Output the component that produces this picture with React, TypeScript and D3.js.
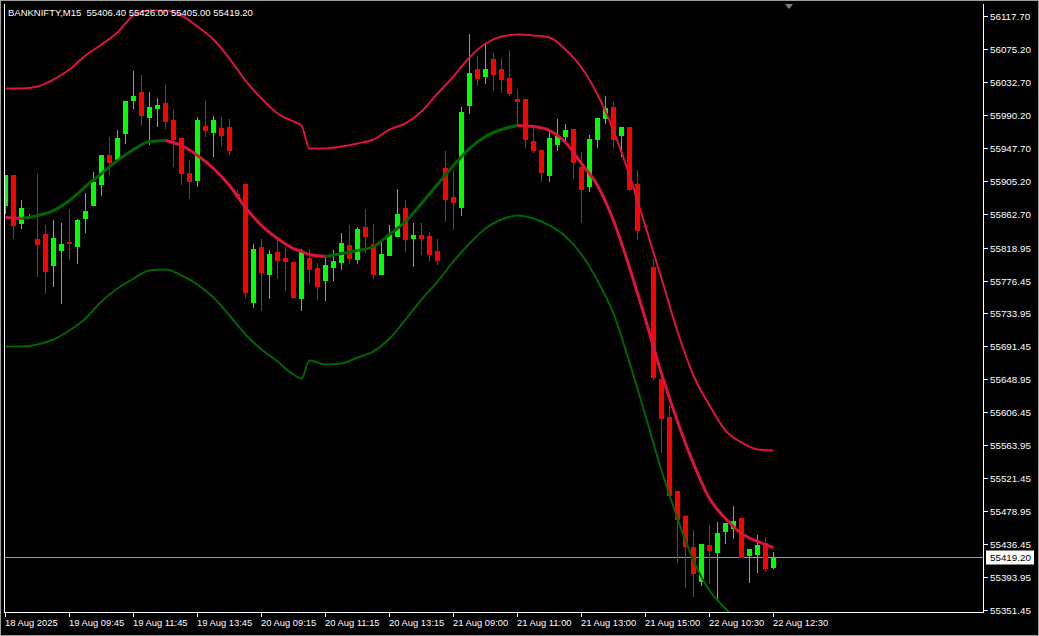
import React from "react";
import * as d3 from "d3";

const symbolTitle = "BANKNIFTY,M15  55406.40 55426.00 55405.00 55419.20";

const timeLabels = [
  "18 Aug 2025", "19 Aug 09:45", "19 Aug 11:45", "19 Aug 13:45", "20 Aug 09:15",
  "20 Aug 11:15", "20 Aug 13:15", "21 Aug 09:00", "21 Aug 11:00", "21 Aug 13:00",
  "21 Aug 15:00", "22 Aug 10:30", "22 Aug 12:30",
];
const timeLabelBars = [0, 8, 16, 24, 32, 40, 48, 56, 64, 72, 80, 88, 96];

const priceTicks = [
  56117.70, 56075.20, 56032.70, 55990.20, 55947.70, 55905.20, 55862.70, 55818.95,
  55776.45, 55733.95, 55691.45, 55648.95, 55606.45, 55563.95, 55521.45, 55478.95,
  55436.45, 55393.95, 55351.45,
];

const lastPrice = 55419.20;

// OHLC per 15-minute bar (97 bars)
const opens = [
  55873.9, 55912.6, 55850.7, 55859.4, 55830.0, 55836.5, 55796.5, 55815.8, 55826.2, 55821.0,
  55857.1, 55873.9, 55901.0, 55938.4, 55933.2, 55966.8, 56009.3, 56019.7, 55987.4, 55999.0,
  56005.5, 55983.5, 55960.3, 55915.2, 55906.1, 55975.8, 55968.1, 55973.2, 55974.5, 55888.1,
  55901.0, 55748.8, 55819.7, 55784.9, 55813.3, 55805.5, 55800.4, 55753.9, 55805.5, 55792.6,
  55777.1, 55793.9, 55800.4, 55822.3, 55804.2, 55845.5, 55823.6, 55784.9, 55809.4, 55833.9,
  55870.0, 55831.3, 55835.2, 55833.9, 55814.6, 55921.6, 55884.2, 55871.3, 56002.9, 56049.3,
  56040.3, 56062.2, 56049.3, 56037.7, 56010.6, 56010.6, 55956.5, 55944.8, 55912.6, 55952.6,
  55962.9, 55971.9, 55922.9, 55898.4, 55959.0, 55986.1, 56000.3, 55964.2, 55974.5, 55901.0,
  55846.8, 55793.9, 55649.4, 55600.4, 55505.0, 55472.7, 55432.7, 55388.9, 55435.3, 55426.3,
  55453.4, 55457.2, 55470.1, 55422.4, 55423.7, 55437.9, 55406.40,
];
const highs = [
  55912.6, 55912.6, 55880.3, 55862.3, 55913.9, 55848.1, 55854.5, 55850.7, 55868.7, 55856.0,
  55889.4, 55916.5, 55938.4, 55961.6, 55970.6, 56008.1, 56046.8, 56041.6, 56019.7, 56011.9,
  56028.7, 55996.4, 55960.3, 55931.9, 55987.4, 56008.1, 55988.7, 55987.4, 55984.8, 55893.2,
  55901.0, 55823.6, 55830.0, 55815.8, 55830.0, 55819.7, 55800.4, 55817.1, 55817.1, 55799.1,
  55805.5, 55815.8, 55837.8, 55848.1, 55845.5, 55868.7, 55849.4, 55826.2, 55848.1, 55894.5,
  55880.3, 55850.7, 55850.7, 55839.1, 55830.0, 55943.6, 55919.0, 56000.3, 56094.5, 56066.1,
  56081.6, 56070.0, 56063.5, 56073.8, 56023.5, 56010.6, 55975.8, 55944.8, 55970.6, 55984.8,
  55978.4, 55971.9, 55942.3, 55964.2, 55986.1, 56014.5, 56006.8, 55974.5, 55974.5, 55919.0,
  55848.0, 55804.2, 55649.4, 55615.9, 55505.0, 55472.7, 55454.6, 55436.6, 55461.1, 55465.0,
  55463.7, 55485.6, 55470.1, 55430.1, 55448.2, 55445.6, 55426.00,
];
const lows = [
  55863.6, 55831.3, 55844.2, 55857.1, 55782.3, 55760.4, 55769.4, 55747.5, 55804.2, 55799.1,
  55839.1, 55873.9, 55886.8, 55913.9, 55933.2, 55953.9, 55999.0, 55977.1, 55952.6, 55975.8,
  55973.2, 55924.2, 55901.0, 55882.9, 55898.4, 55962.9, 55937.1, 55951.3, 55939.7, 55882.9,
  55755.2, 55742.3, 55738.4, 55753.9, 55779.7, 55764.2, 55753.9, 55738.4, 55774.6, 55752.6,
  55751.3, 55777.1, 55791.3, 55799.1, 55799.1, 55813.3, 55779.7, 55784.9, 55809.4, 55833.9,
  55814.6, 55795.2, 55810.7, 55801.7, 55797.8, 55853.3, 55842.9, 55861.0, 55992.6, 56028.7,
  56031.3, 56022.2, 56019.7, 56015.8, 55977.1, 55948.7, 55942.3, 55904.9, 55904.9, 55944.8,
  55955.2, 55908.7, 55852.0, 55892.0, 55948.7, 55979.7, 55948.7, 55937.1, 55893.2, 55830.0,
  55845.5, 55649.4, 55555.3, 55499.8, 55413.4, 55381.1, 55369.5, 55383.7, 55386.3, 55365.6,
  55437.9, 55444.3, 55419.8, 55387.6, 55400.5, 55403.0, 55405.00,
];
const closes = [
  55912.6, 55848.1, 55870.0, 55860.2, 55823.6, 55788.8, 55831.3, 55823.6, 55824.9, 55854.5,
  55866.2, 55903.6, 55938.4, 55929.4, 55960.3, 56008.1, 56014.5, 55990.0, 56000.3, 56002.9,
  55982.3, 55959.0, 55915.2, 55904.9, 55983.5, 55970.6, 55983.5, 55964.2, 55944.8, 55885.5,
  55761.7, 55817.1, 55787.5, 55810.7, 55802.9, 55801.7, 55755.2, 55813.3, 55791.3, 55769.4,
  55796.5, 55801.7, 55824.9, 55805.5, 55842.9, 55833.9, 55784.9, 55810.7, 55835.2, 55862.3,
  55830.0, 55835.2, 55831.3, 55810.7, 55802.9, 55881.6, 55877.8, 55993.9, 56044.2, 56037.7,
  56049.3, 56042.9, 56036.4, 56018.4, 56008.1, 55959.0, 55944.8, 55916.5, 55960.3, 55962.9,
  55970.6, 55929.4, 55894.5, 55959.0, 55986.1, 55999.0, 55959.0, 55974.5, 55894.5, 55841.6,
  55846.5, 55652.0, 55599.1, 55499.8, 55468.8, 55434.0, 55399.2, 55436.6, 55428.8, 55450.8,
  55463.7, 55466.3, 55419.8, 55430.1, 55435.3, 55405.6, 55419.20,
];

// Band indicator, sampled at these bar indices
const bandBars = [
  0, 2, 4, 6, 8, 10, 12, 14, 16, 18, 20, 22, 24, 26, 28, 30, 32, 34, 36, 37, 38, 40, 42, 44, 46,
  48, 50, 52, 54, 56, 58, 60, 62, 64, 66, 68, 70, 72, 74, 76, 78, 80, 82, 84, 86, 88, 90, 92, 94, 96,
];
const upperBand = [
  56024.8, 56024.8, 56027.4, 56036.4, 56049.3, 56067.4, 56081.6, 56097.1, 56119.0, 56125.4,
  56125.4, 56119.0, 56104.8, 56088.0, 56063.5, 56035.1, 56011.9, 55992.6, 55982.3, 55977.1,
  55947.4, 55947.4, 55950.0, 55953.9, 55959.0, 55971.9, 55979.7, 55995.2, 56018.4, 56040.3,
  56064.8, 56082.9, 56091.9, 56094.5, 56093.2, 56090.6, 56075.1, 56051.9, 56017.1, 55970.6,
  55912.6, 55846.8, 55779.7, 55711.4, 55654.6, 55615.9, 55583.6, 55568.2, 55559.1, 55557.8,
];
const middleBand = [
  55858.4, 55857.1, 55861.0, 55867.4, 55880.3, 55898.4, 55915.2, 55931.9, 55946.1, 55956.5,
  55957.7, 55951.3, 55938.4, 55921.6, 55899.7, 55871.3, 55848.1, 55831.3, 55818.4, 55814.6,
  55810.7, 55808.1, 55812.0, 55815.8, 55821.0, 55836.5, 55853.3, 55876.5, 55901.0, 55925.5,
  55947.4, 55962.9, 55971.9, 55977.1, 55975.8, 55970.6, 55955.2, 55928.1, 55899.7, 55854.5,
  55793.9, 55726.8, 55657.2, 55595.3, 55541.1, 55495.9, 55470.1, 55450.8, 55440.5, 55432.7,
];
const lowerBand = [
  55692.0, 55692.0, 55694.6, 55701.0, 55712.6, 55728.1, 55750.1, 55766.8, 55779.7, 55790.0,
  55791.3, 55783.6, 55772.0, 55755.2, 55732.0, 55707.5, 55688.1, 55672.7, 55655.9, 55650.7,
  55674.0, 55668.8, 55670.1, 55677.8, 55685.6, 55702.3, 55726.8, 55752.6, 55775.8, 55801.7,
  55824.9, 55844.2, 55855.8, 55861.0, 55857.1, 55848.1, 55833.9, 55810.7, 55777.1, 55734.6,
  55671.4, 55603.0, 55532.0, 55470.1, 55415.9, 55377.2, 55354.0, 55333.4, 55320.5, 55307.6,
];

const BULL = "#00FF00";
const BEAR = "#FF0000";
const UPPER_C = "#DC143C";
const LOWER_C = "#006400";
const MID_UP = "#006400";
const MID_DN = "#DC143C";
const FONT = "'Liberation Sans', Arial, sans-serif";

export default function App() {
  const W = 1039;
  const H = 636;
  const plotL = 5;
  const plotR = 983;
  const plotT = 4;
  const plotB = 612;

  const x = d3.scaleLinear().domain([0, 96]).range([5.5, 773.5]);
  const y = d3.scaleLinear().domain([55351.45, 56117.70]).range([610.5, 16.5]);

  const line = (vals: number[]) =>
    d3
      .line<number>()
      .x((_, i) => x(bandBars[i]))
      .y((v) => y(v))
      .curve(d3.curveMonotoneX)(vals) || "";

  const midRuns: { pts: [number, number][]; up: boolean }[] = [];
  for (let i = 1; i < middleBand.length; i++) {
    const up = middleBand[i] >= middleBand[i - 1];
    const p0: [number, number] = [x(bandBars[i - 1]), y(middleBand[i - 1])];
    const p1: [number, number] = [x(bandBars[i]), y(middleBand[i])];
    const last = midRuns[midRuns.length - 1];
    if (last && last.up === up) last.pts.push(p1);
    else midRuns.push({ pts: [p0, p1], up });
  }
  const midLine = d3
    .line<[number, number]>()
    .x((d) => d[0])
    .y((d) => d[1])
    .curve(d3.curveMonotoneX);

  const candles = opens.map((o, i) => {
    const c = closes[i];
    const hi = highs[i];
    const lo = lows[i];
    const cx = x(i);
    const up = c >= o;
    const top = Math.round(y(Math.max(o, c)) - 0.5);
    const bot = Math.round(y(Math.min(o, c)) - 0.5);
    const hTop = Math.round(y(hi) - 0.5);
    const hBot = Math.round(y(lo) - 0.5);
    return (
      <g key={i}>
        <rect x={cx - 0.5} y={hTop} width={1} height={hBot - hTop + 1} fill={up ? BULL : BEAR} />
        <rect x={cx - 2.5} y={top} width={5} height={Math.max(1, bot - top + 1)} fill={up ? BULL : BEAR} />
      </g>
    );
  });

  const lastY = Math.round(y(lastPrice) - 0.5) + 0.5;

  return (
    <svg
      width={W}
      height={H}
      style={{ position: "absolute", left: 0, top: 0, display: "block", background: "#000" }}
      xmlns="http://www.w3.org/2000/svg"
    >
      <defs>
        <clipPath id="plotClip">
          <rect x={plotL} y={plotT} width={plotR - plotL} height={plotB - plotT} />
        </clipPath>
      </defs>
      <rect x={0} y={0} width={W} height={H} fill="#000" />

      <g clipPath="url(#plotClip)">
        <line x1={plotL} x2={plotR} y1={lastY} y2={lastY} stroke="#9a9a9a" strokeWidth={1} />
        {candles}
        <path d={line(upperBand)} fill="none" stroke={UPPER_C} strokeWidth={2} />
        <path d={line(lowerBand)} fill="none" stroke={LOWER_C} strokeWidth={2} />
        {midRuns.map((r, i) => (
          <path key={i} d={midLine(r.pts) || ""} fill="none" stroke={r.up ? MID_UP : MID_DN} strokeWidth={3} />
        ))}
      </g>

      {/* frame */}
      <line x1={plotL - 0.5} x2={plotL - 0.5} y1={plotT} y2={plotB + 1} stroke="#fff" strokeWidth={1} />
      <line x1={plotL - 1} x2={plotR + 1} y1={plotB + 0.5} y2={plotB + 0.5} stroke="#fff" strokeWidth={1} />
      <line x1={plotR + 0.5} x2={plotR + 0.5} y1={plotT} y2={plotB + 1} stroke="#fff" strokeWidth={1} />

      {/* price axis */}
      {priceTicks.map((v, i) => {
        const ty = Math.round(y(v) - 0.5) + 0.5;
        return (
          <g key={i}>
            <line x1={plotR + 1} x2={plotR + 5} y1={ty} y2={ty} stroke="#fff" strokeWidth={1} />
            <text x={990} y={ty} dy="0.35em" fill="#fff" fontSize={9.8} fontFamily={FONT}>
              {v.toFixed(2)}
            </text>
          </g>
        );
      })}

      {/* last price label */}
      <rect x={986} y={lastY - 7} width={48} height={14} fill="#fff" />
      <text x={990} y={lastY} dy="0.35em" fill="#000" fontSize={9.8} fontFamily={FONT}>
        {lastPrice.toFixed(2)}
      </text>

      {/* time axis */}
      {timeLabels.map((t, i) => {
        const tx = Math.round(x(timeLabelBars[i]) - 0.5) + 0.5;
        return (
          <g key={i}>
            <line x1={tx} x2={tx} y1={plotB + 1} y2={plotB + 5} stroke="#fff" strokeWidth={1} />
            <text x={tx - 0.5} y={626} fill="#fff" fontSize={9.4} fontFamily={FONT}>
              {t}
            </text>
          </g>
        );
      })}

      {/* title */}
      <text x={8} y={16} fill="#fff" fontSize={9.5} fontFamily={FONT} style={{ whiteSpace: "pre" }}>
        {symbolTitle}
      </text>

      {/* shift marker */}
      <path d="M785,4 L793,4 L789,9 Z" fill="#808080" />

      {/* window border */}
      <rect x={0.5} y={0.5} width={W - 1} height={H - 1} fill="none" stroke="#a0a0a0" strokeWidth={1} />
    </svg>
  );
}
